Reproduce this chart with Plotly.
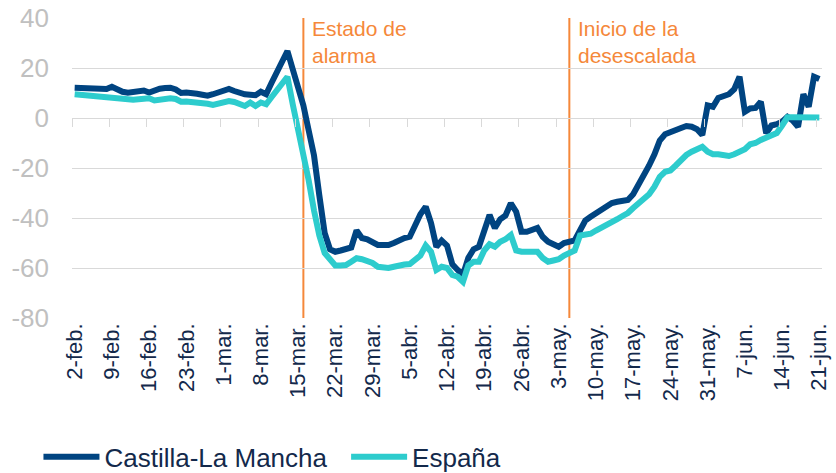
import pandas as pd
import plotly.graph_objects as go

# ---- data ----
dates = pd.date_range("2020-02-02", "2020-06-21", freq="D")

clm = [
    12.1, 12.0, 12.0, 11.9, 11.7, 11.5, 11.6,
    12.5, 11.3, 10.5, 10.1, 10.5, 10.9, 11.0,
    10.2, 11.2, 11.7, 12.0, 12.1, 11.4, 10.0,
    10.2, 10.2, 9.7, 9.3, 8.9, 9.5, 10.3,
    11.1, 11.6, 10.8, 10.0, 9.5, 9.3, 9.1,
    10.5, 9.5, 14.0, 18.5, 22.5, 26.8, 19.5,
    12.0, 5.0, -5.0, -15.0, -31.0, -46.0, -52.5,
    -53.5, -53.0, -52.5, -51.8, -45.0, -48.0, -48.5,
    -50.0, -50.8, -50.8, -50.8, -50.0, -48.8, -48.0,
    -47.5, -43.0, -38.5, -35.5, -42.0, -51.5, -49.0,
    -51.0, -58.5, -60.8, -62.8, -56.0, -52.5, -51.5,
    -45.0, -38.8, -44.0, -40.5, -39.0, -34.1, -37.5,
    -45.5, -45.5, -44.5, -44.0, -47.5, -49.5, -50.5,
    -51.5, -50.0, -49.5, -49.0, -45.0, -41.0, -39.5,
    -38.0, -36.5, -35.0, -34.0, -33.5, -33.2, -32.8,
    -30.5, -27.0, -23.5, -19.0, -14.5, -9.0, -6.5,
    -5.5, -4.8, -4.0, -3.2, -3.5, -4.5, -6.8,
    5.0, 4.5, 8.0, 8.5, 9.5, 11.5, 16.5,
    2.5, 3.8, 4.0, 6.5, -6.1, -3.0, -2.5,
    -1.5, 0.5, -1.0, -3.5, 9.5, 4.5, 16.5,
    15.6,
]

espana = [
    9.5, 9.3, 9.1, 8.9, 8.6, 8.4, 8.2,
    8.0, 7.7, 7.4, 7.2, 7.3, 7.5, 7.8,
    7.9, 7.0, 7.5, 7.8, 7.9, 7.6, 6.5,
    6.6, 6.5, 6.4, 6.2, 5.7, 5.2, 5.8,
    6.3, 6.8, 6.4, 5.5, 4.8, 6.2, 4.8,
    6.2, 5.5, 8.3, 11.0, 13.8, 16.5, 5.5,
    -4.0, -14.0, -25.0, -37.0, -47.0, -54.0, -57.0,
    -59.0, -59.0, -58.8, -57.5, -56.1, -56.5, -57.0,
    -58.0, -59.5, -60.0, -60.0, -59.5, -58.8, -58.6,
    -58.4, -57.0, -55.0, -51.0, -53.5, -60.8, -59.5,
    -60.0, -62.8, -63.5, -65.5, -59.0, -57.5, -57.5,
    -53.0, -50.5, -51.5, -49.5, -48.5, -46.8, -53.0,
    -53.5, -53.5, -53.0, -53.5, -56.0, -57.5, -57.0,
    -56.5, -55.0, -54.1, -53.0, -47.0, -46.5, -46.3,
    -45.0, -44.0, -42.5, -41.5, -40.5, -39.2, -38.0,
    -36.0, -34.1, -32.5, -30.5, -27.5, -23.5, -21.5,
    -21.0, -19.0, -16.5, -14.8, -13.5, -12.3, -11.5,
    -13.5, -14.5, -14.5, -15.0, -15.2, -14.5, -13.5,
    -12.5, -10.5, -10.0, -8.8, -8.0, -7.2, -6.0,
    -3.0, 0.3, 0.3, 0.3, 0.3, 0.3, 0.3,
    0.2,
]

tick_labels = ["2-feb.", "9-feb.", "16-feb.", "23-feb.", "1-mar.", "8-mar.",
               "15-mar.", "22-mar.", "29-mar.", "5-abr.", "12-abr.", "19-abr.",
               "26-abr.", "3-may.", "10-may.", "17-may.", "24-may.", "31-may.",
               "7-jun.", "14-jun.", "21-jun."]

y_ticks = [40, 20, 0, -20, -40, -60, -80]
y_tick_labels = ["40", "20", "0", "-20", "-40", "-60", "-80"]

event_dates = ["2020-03-16", "2020-05-05"]
event_labels = ["Estado de<br>alarma", "Inicio de la<br>desescalada"]

# ---- styles ----
DARK = "#004481"
CYAN = "#2dcccd"
ORANGE = "#f5883a"
NAVY = "#13294b"
GRID = "#d9d9d9"
FONT = "Liberation Sans, Arial, sans-serif"

half = pd.Timedelta(hours=12)
tick_pos = list(dates[::7])
boundaries = [d - half for d in tick_pos]
xrange = [dates[0] - half, dates[-1] + half]

fig = go.Figure()
fig.add_trace(go.Scatter(x=dates, y=clm, mode="lines", name="Castilla-La Mancha",
                         line=dict(color=DARK, width=6), legend="legend"))
fig.add_trace(go.Scatter(x=dates, y=espana, mode="lines", name="España",
                         line=dict(color=CYAN, width=6), legend="legend2"))

for d, lab in zip(event_dates, event_labels):
    fig.add_shape(type="line", xref="x", yref="paper", x0=d, x1=d, y0=0, y1=1,
                  line=dict(color=ORANGE, width=2), layer="below")
    fig.add_annotation(x=d, y=1, xref="x", yref="paper", text=lab, showarrow=False,
                       xanchor="left", yanchor="top", align="left", xshift=7, yshift=3,
                       font=dict(family=FONT, size=21, color=ORANGE))

legend_style = dict(orientation="h", xref="container", yref="container",
                    xanchor="left", yanchor="middle", y=0.034,
                    font=dict(family=FONT, size=26, color=NAVY), itemwidth=56,
                    bgcolor="rgba(0,0,0,0)")

fig.update_layout(
    width=836, height=473,
    margin=dict(l=72, r=14, t=18, b=155, autoexpand=False),
    plot_bgcolor="white", paper_bgcolor="white",
    font=dict(family=FONT),
    showlegend=True,
    legend=dict(x=0.046, **legend_style),
    legend2=dict(x=0.414, **legend_style),
    xaxis=dict(type="date", range=xrange, tickvals=tick_pos, ticktext=tick_labels,
               tickangle=-90, showgrid=False, zeroline=False, showline=False,
               ticks="", tickfont=dict(family=FONT, size=22, color=NAVY)),
    xaxis2=dict(type="date", overlaying="x", matches="x", anchor="free", position=80 / 120,
                tickvals=boundaries, showticklabels=False, ticks="outside", ticklen=8,
                tickcolor=GRID, tickwidth=1, showgrid=False, zeroline=False, showline=False),
    yaxis=dict(range=[-80, 40], tickvals=y_ticks, ticktext=y_tick_labels,
               showgrid=True, gridcolor=GRID, gridwidth=1,
               zeroline=False, showline=False, ticks="", ticklabelstandoff=22,
               tickfont=dict(family=FONT, size=26, color="#c0c0c0")),
)
# invisible trace to activate xaxis2
fig.add_trace(go.Scatter(x=[dates[0]], y=[0], xaxis="x2", mode="lines", showlegend=False,
                         hoverinfo="skip", line=dict(width=0)))

fig.write_html("out.html", config={"displayModeBar": False},
               post_script="document.body.style.margin='0';")
